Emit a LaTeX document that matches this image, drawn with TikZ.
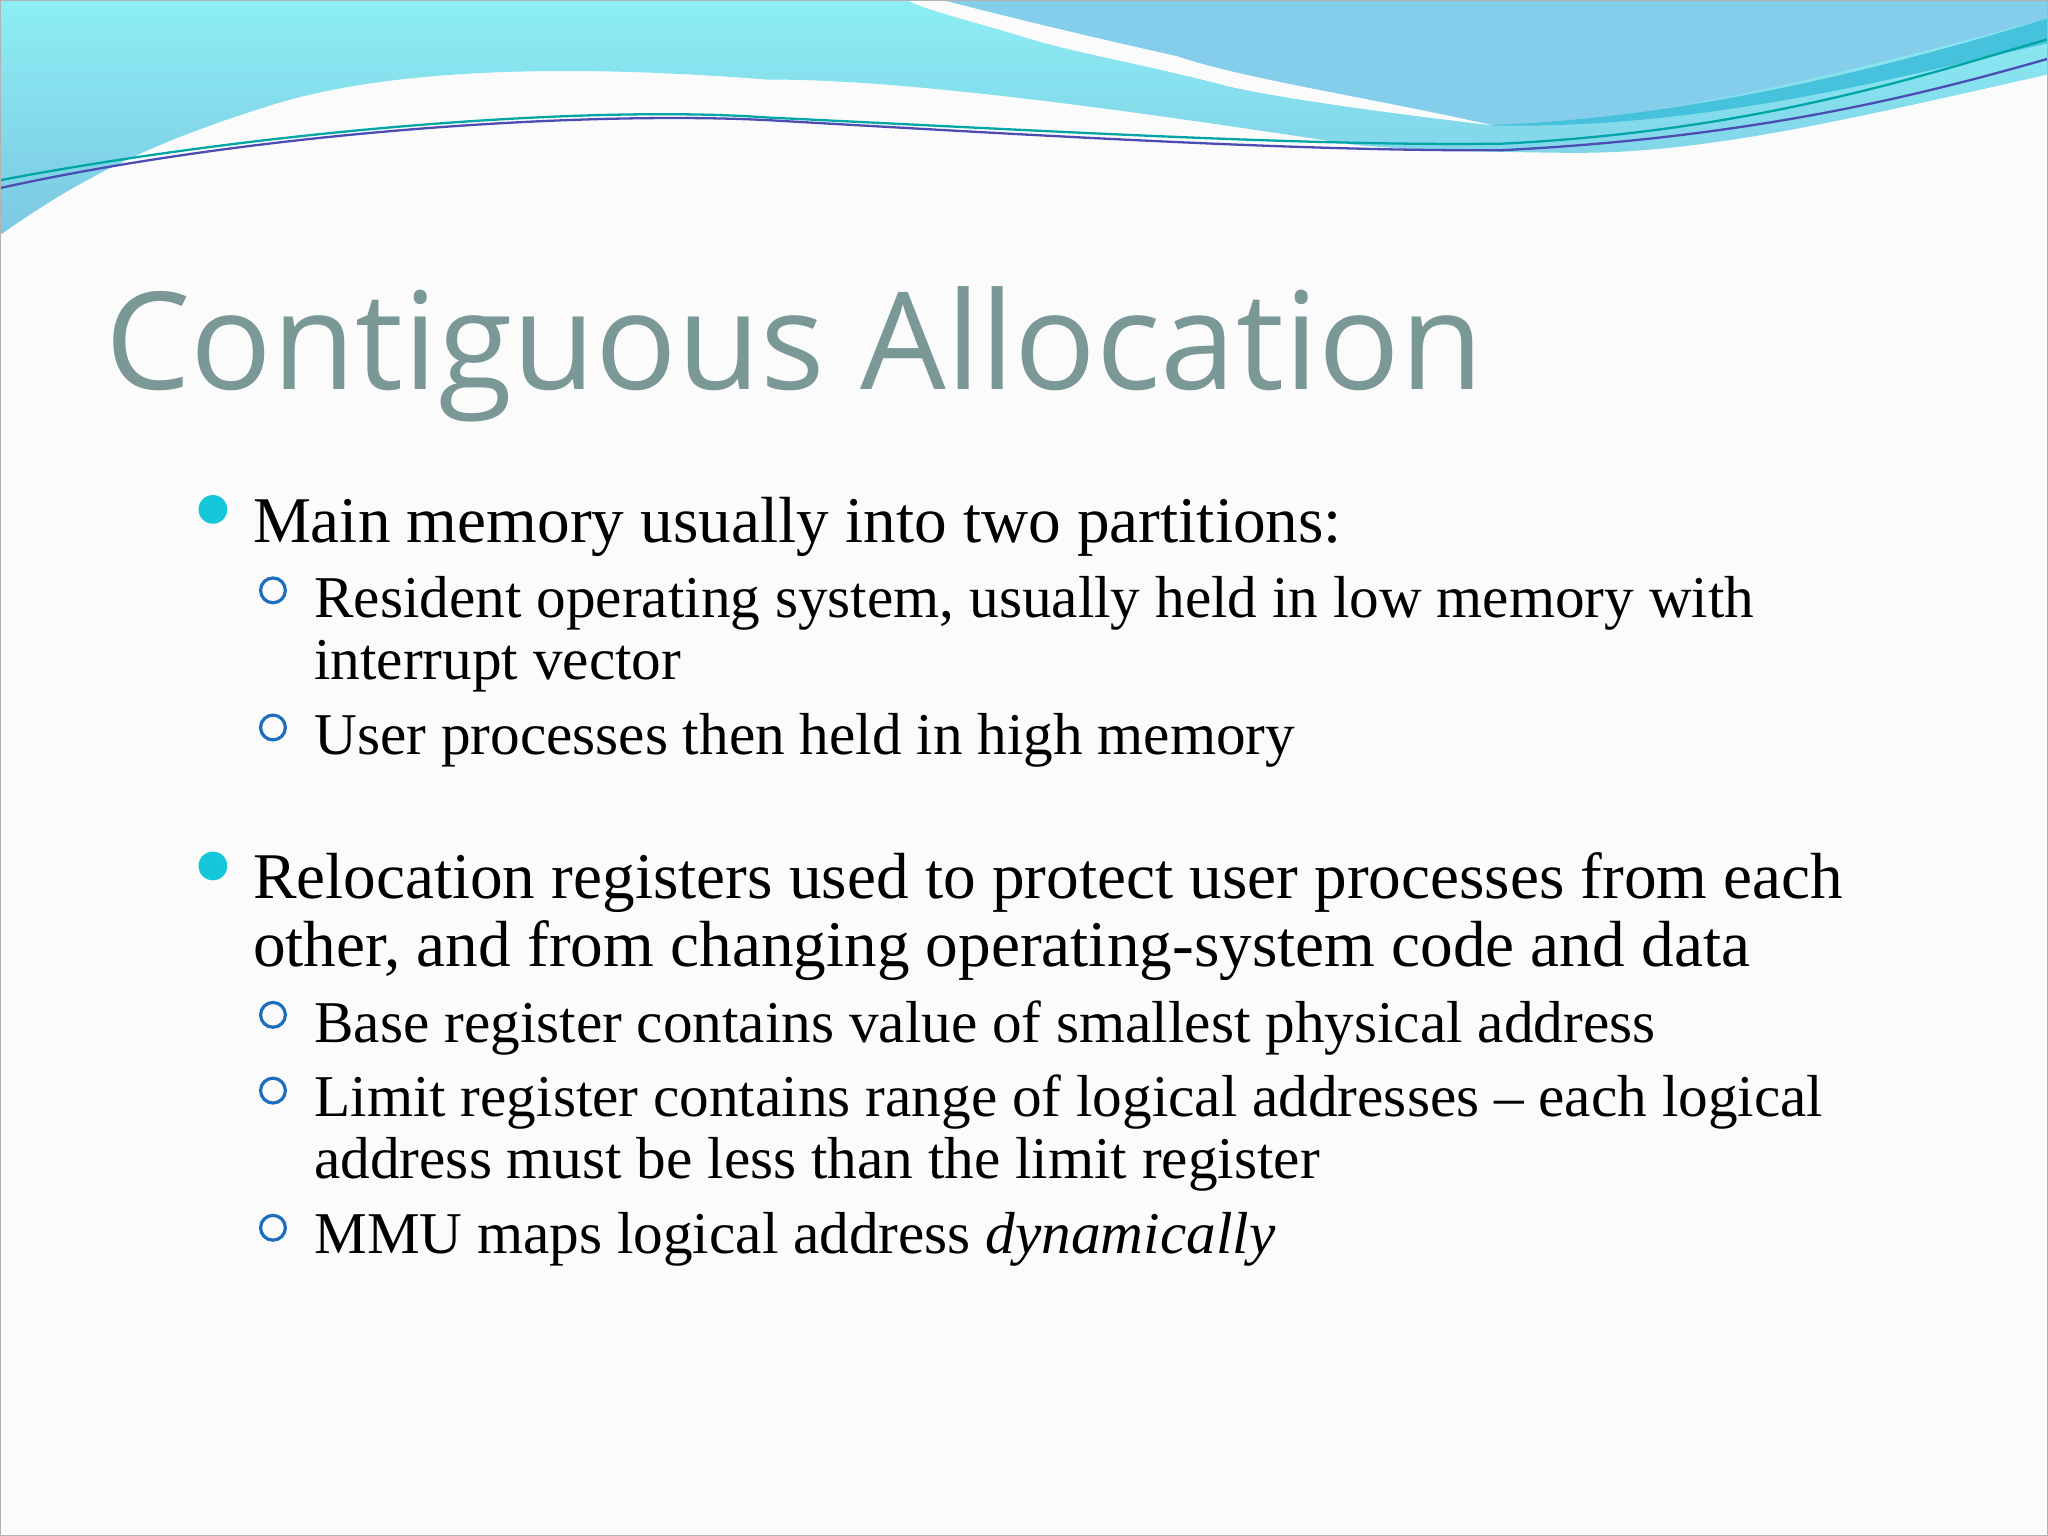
\documentclass[tikz,border=0pt]{standalone}
\usepackage{fontspec}
\setmainfont{Liberation Serif}
\newfontfamily\titlefont{Open Sans}
\definecolor{cyanA}{RGB}{140,238,244}
\definecolor{cyanB}{RGB}{124,200,226}
\definecolor{blueR}{RGB}{132,206,236}
\definecolor{tealS}{RGB}{70,194,220}
\definecolor{titlec}{RGB}{122,153,150}
\definecolor{bul1}{RGB}{20,200,218}
\definecolor{bul2}{RGB}{30,110,190}
\definecolor{bg}{RGB}{251,251,252}
\tikzset{l1/.style={anchor=base west,inner sep=0pt,font=\fontsize{14.2}{17}\selectfont},
 l2/.style={anchor=base west,inner sep=0pt,font=\fontsize{12.9}{15}\selectfont},
 b1/.style={fill=bul1,draw=none},
 b2/.style={draw=bul2,line width=0.7pt,fill=none}}
\begin{document}
\begin{tikzpicture}[x=0.01cm,y=-0.01cm]
\useasboundingbox (0,0) rectangle (1568,1176);
\fill[bg] (0,0) rectangle (1568,1176);
% light cyan band
\shade[top color=cyanA,bottom color=cyanB] (0,0) -- (1568,0) -- (1568,57)
  .. controls (1400,95) and (1300,118) .. (1200,117)
  .. controls (1100,116) and (1060,113) .. (1038,111)
  .. controls (900,90) and (700,60) .. (588,61)
  .. controls (450,50) and (300,50) .. (203,82)
  .. controls (130,105) and (70,130) .. (0,180) -- cycle;
% right blue region
\fill[blueR] (721,0) -- (1568,0) -- (1568,14)
  .. controls (1400,60) and (1250,95) .. (1143,96)
  .. controls (1050,75) and (950,60) .. (901,43)
  .. controls (820,25) and (760,10) .. (721,0) -- cycle;
% teal stripe
\fill[tealS] (1138,96) .. controls (1300,90) and (1450,50) .. (1568,14) -- (1568,33)
  .. controls (1450,60) and (1300,100) .. (1138,96) -- cycle;
% white swoosh
\fill[bg] (694,0) -- (721,0) .. controls (760,10) and (820,25) .. (901,43)
  .. controls (950,60) and (1050,75) .. (1143,96)
  .. controls (1050,85) and (980,75) .. (940,66)
  .. controls (880,50) and (820,40) .. (783,28)
  .. controls (740,15) and (710,8) .. (694,0) -- cycle;
% thin lines
\draw[teal!70!cyan,line width=0.5pt] (0,138) .. controls (200,100) and (450,80) .. (588,90)
  .. controls (800,100) and (1000,112) .. (1150,110) .. controls (1350,100) and (1480,55) .. (1568,30);
\draw[blue!40!gray,line width=0.5pt] (0,144) .. controls (200,100) and (450,85) .. (588,92)
  .. controls (800,104) and (1000,116) .. (1150,115) .. controls (1350,105) and (1480,70) .. (1568,45);
\draw[gray!60,line width=0.4pt] (0,0) rectangle (1568,1176);
% title
\node[anchor=base west,inner sep=0pt,font=\titlefont\fontsize{29.5}{34}\selectfont,text=titlec] (title) at (80,298) {Contiguous Allocation};
% bullets
\fill[b1] (163,390) circle (11);
\fill[b1] (163,663) circle (11);
\foreach \yy in {452,557,777,835,940} \draw[b2] (209,\yy) circle (9.5);
\node[l1] (t1) at (193,415) {Main memory usually into two partitions:};
\node[l2] (t2) at (240,473) {Resident operating system, usually held in low memory with};
\node[l2] (t3) at (240,520) {interrupt vector};
\node[l2] (t4) at (240,578) {User processes then held in high memory};
\node[l1] (t5) at (193,688) {Relocation registers used to protect user processes from each};
\node[l1] (t6) at (193,740) {other, and from changing operating-system code and data};
\node[l2] (t7) at (240,798) {Base register contains value of smallest physical address};
\node[l2] (t8) at (240,855) {Limit register contains range of logical addresses – each logical};
\node[l2] (t9) at (240,902) {address must be less than the limit register};
\node[l2] (t10) at (240,960) {MMU maps logical address \textit{dynamically}};
\end{tikzpicture}
\end{document}
